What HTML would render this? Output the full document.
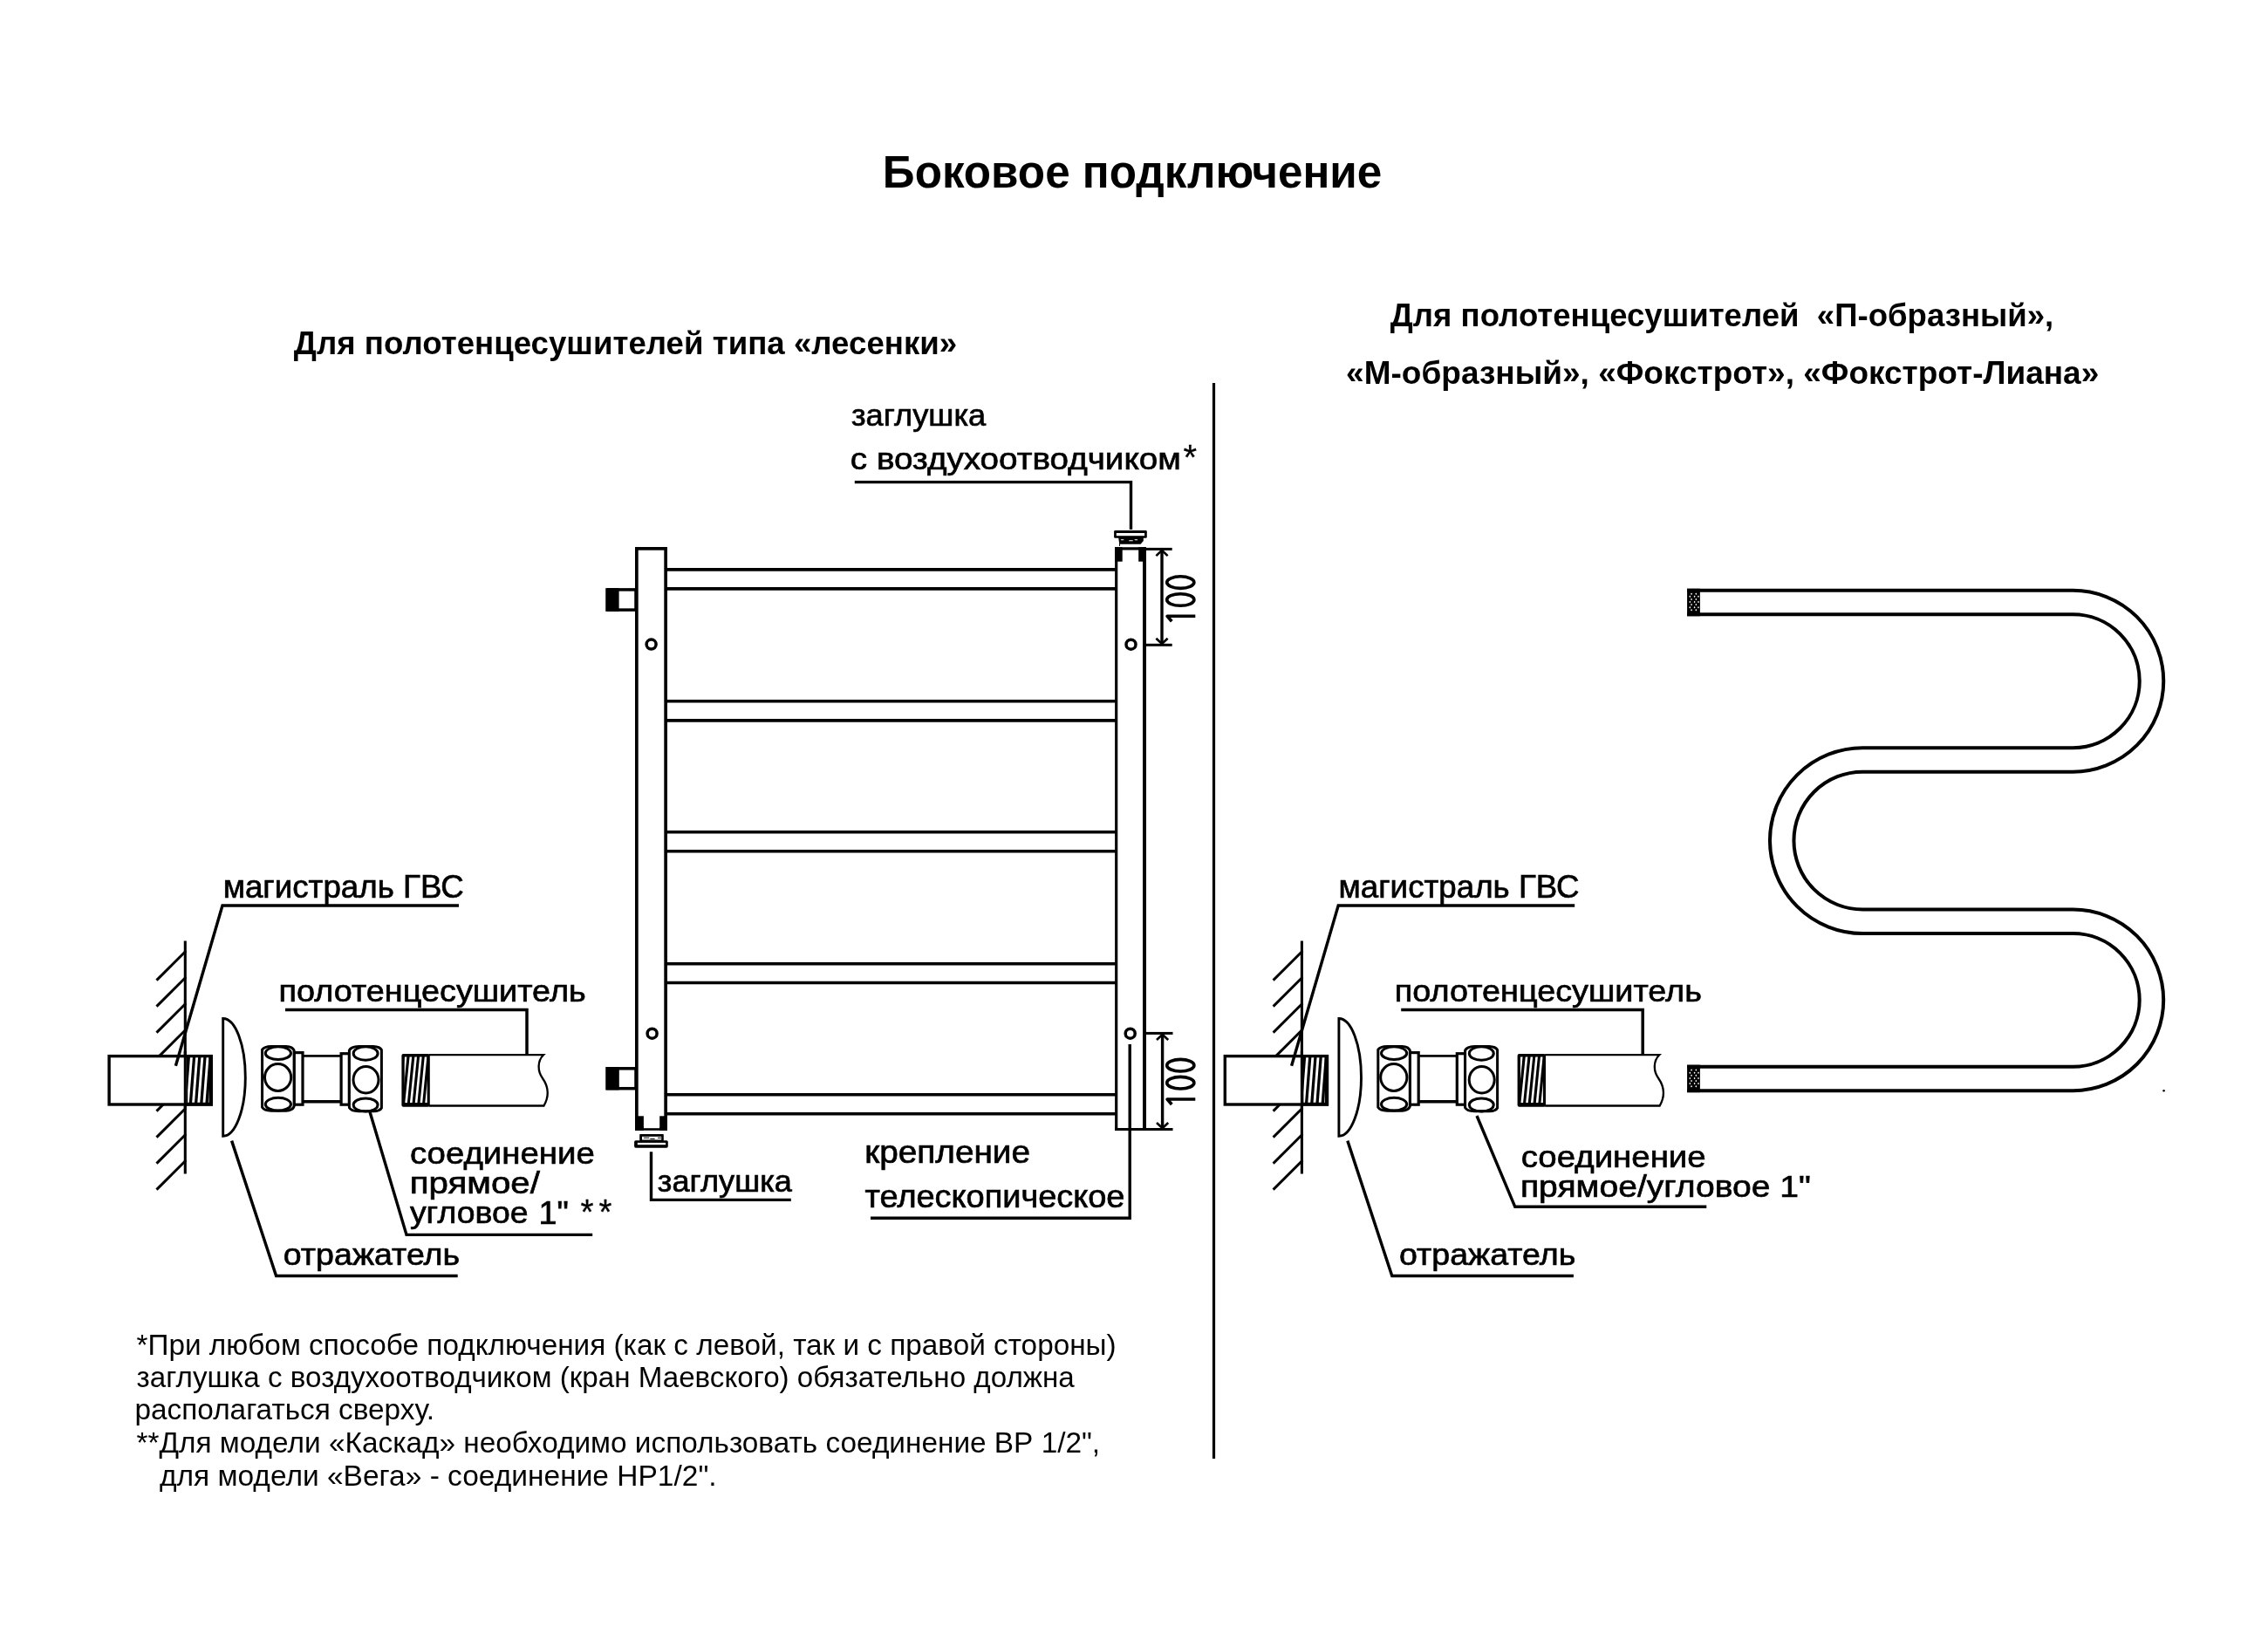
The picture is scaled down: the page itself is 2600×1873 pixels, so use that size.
<!DOCTYPE html>
<html><head><meta charset="utf-8"><title>Боковое подключение</title>
<style>html,body{margin:0;padding:0;background:#fff}svg{display:block}</style></head>
<body>
<svg width="2600" height="1873" viewBox="0 0 2600 1873" font-family="Liberation Sans, sans-serif" fill="#000" stroke="#000">
<defs>
<clipPath id="cpA"><rect x="215.2" y="1212.3" width="24.3" height="51.5"/></clipPath>
<clipPath id="cpB"><rect x="463.7" y="1211.6" width="26" height="52.4"/></clipPath>
</defs>
<rect width="2600" height="1873" fill="#fff" stroke="none"/>
<line x1="1391.5" y1="438.9" x2="1391.5" y2="1671.9" stroke-width="3.2"/>
<line x1="764" y1="652.9" x2="1279" y2="652.9" stroke-width="3.6"/>
<line x1="764" y1="674.9" x2="1279" y2="674.9" stroke-width="3.6"/>
<line x1="764" y1="803.8" x2="1279" y2="803.8" stroke-width="3.6"/>
<line x1="764" y1="825.9" x2="1279" y2="825.9" stroke-width="3.6"/>
<line x1="764" y1="953.8" x2="1279" y2="953.8" stroke-width="3.6"/>
<line x1="764" y1="975.8" x2="1279" y2="975.8" stroke-width="3.6"/>
<line x1="764" y1="1104.7" x2="1279" y2="1104.7" stroke-width="3.6"/>
<line x1="764" y1="1126.5" x2="1279" y2="1126.5" stroke-width="3.6"/>
<line x1="764" y1="1254.8" x2="1279" y2="1254.8" stroke-width="3.6"/>
<line x1="764" y1="1276.8" x2="1279" y2="1276.8" stroke-width="3.6"/>
<rect x="696" y="675.9" width="33" height="23.2" fill="#fff" stroke-width="3.5"/>
<rect x="695.8" y="674.1" width="13.8" height="26.8" stroke="none"/>
<rect x="696" y="1224.8" width="33" height="22.9" fill="#fff" stroke-width="3.5"/>
<rect x="695" y="1223" width="14.8" height="26.4" stroke="none"/>
<rect x="729.85" y="628.85" width="33.3" height="665.1" fill="#fff" stroke-width="3.7"/>
<rect x="1279" y="628" width="33" height="667" fill="#fff" stroke="none"/>
<line x1="1279.7" y1="627.2" x2="1279.7" y2="1296.1" stroke-width="3.2"/>
<line x1="1312" y1="627.2" x2="1312" y2="1296.1" stroke-width="4"/>
<line x1="1278.1" y1="628.9" x2="1314" y2="628.9" stroke-width="3.4"/>
<line x1="1278" y1="1294.6" x2="1344.5" y2="1294.6" stroke-width="3"/>
<rect x="737.9" y="1291.6" width="18.3" height="1.6" fill="#fff" stroke="none"/>
<rect x="1278.1" y="627.2" width="8.6" height="16.5" stroke="none"/><rect x="1305.2" y="627.2" width="8.6" height="16.5" stroke="none"/>
<rect x="728.1" y="1279.3" width="9.8" height="16.6" stroke="none"/><rect x="756.2" y="1279.3" width="8.6" height="16.6" stroke="none"/>
<circle cx="746.6" cy="738.6" r="5.5" fill="#fff" stroke-width="3.5"/>
<circle cx="747.6" cy="1184.7" r="5.5" fill="#fff" stroke-width="3.5"/>
<circle cx="1296.5" cy="738.7" r="5.5" fill="#fff" stroke-width="3.5"/>
<circle cx="1295.7" cy="1184.7" r="5.5" fill="#fff" stroke-width="3.5"/>
<path d="M1282.2,616 L1310.8,616 L1310.8,620 L1307.6,623.8 L1283.2,623.8 Z" stroke="none"/>
<path d="M1284.9,618.7h3.4M1300.7,618.7h3.4M1294.3,619.7h4.4" stroke="#fff" stroke-width="1.1" fill="none"/>
<line x1="1283.5" y1="623" x2="1283.5" y2="626" stroke-width="0.9"/>
<rect x="1277.1" y="608" width="37.7" height="8.7" rx="1.3" stroke="none"/>
<rect x="1279.8" y="611" width="32.3" height="3.2" fill="#fff" stroke="none"/>
<rect x="733.2" y="1300" width="27.6" height="8" rx="0.8" stroke="none"/>
<rect x="736" y="1302.8" width="22.2" height="3.7" fill="#fff" stroke="none"/>
<path d="M737.9,1304.2h6.4M745.3,1305.4h5.4M754,1304.3h4" stroke="#000" stroke-width="1" fill="none"/>
<rect x="727.1" y="1307.2" width="38.7" height="8.6" rx="1.8" stroke="none"/>
<rect x="730.8" y="1309.9" width="32.3" height="2.3" fill="#fff" stroke="none"/>
<polyline points="979.8,552.6 1296.5,552.6 1296.5,607" fill="none" stroke-width="3.4"/>
<polyline points="746.5,1320.2 746.5,1375.4 906.8,1375.4" fill="none" stroke-width="3.4"/>
<polyline points="1295.2,1197 1295.2,1396.2 998,1396.2" fill="none" stroke-width="3.4"/>
<line x1="1314" y1="629.4" x2="1343.7" y2="629.4" stroke-width="3"/>
<line x1="1314" y1="739.3" x2="1343.7" y2="739.3" stroke-width="3"/>
<line x1="1332" y1="629.4" x2="1332" y2="739.3" stroke-width="3.4"/>
<polyline points="1325.4,637.0999999999999 1332,630.8 1338.6,637.0999999999999" fill="none" stroke-width="2.6"/>
<polyline points="1325.4,731.7 1332,738 1338.6,731.7" fill="none" stroke-width="2.6"/>
<line x1="1314" y1="1184.4" x2="1344.5" y2="1184.4" stroke-width="3"/>
<line x1="1332.6" y1="1184" x2="1332.6" y2="1295" stroke-width="3.4"/>
<polyline points="1326.0,1192.0 1332.6,1185.7 1339.1999999999998,1192.0" fill="none" stroke-width="2.6"/>
<polyline points="1326.0,1287.0 1332.6,1293.3 1339.1999999999998,1287.0" fill="none" stroke-width="2.6"/>
<ellipse cx="1353.3" cy="667.6" rx="15.6" ry="6.8" fill="none" stroke-width="3.6"/>
<ellipse cx="1353.3" cy="687.5" rx="15.6" ry="6.8" fill="none" stroke-width="3.6"/>
<polyline points="1370.3,706.3 1338.1,706.3 1343.3,712.3" fill="none" stroke-width="3.6" stroke-linejoin="round"/>
<ellipse cx="1353.3" cy="1221.2" rx="15.6" ry="6.8" fill="none" stroke-width="3.6"/>
<ellipse cx="1353.3" cy="1241.2" rx="15.6" ry="6.8" fill="none" stroke-width="3.6"/>
<polyline points="1370.3,1260 1338.1,1260 1343.3,1266" fill="none" stroke-width="3.6" stroke-linejoin="round"/>
<g transform="translate(0,0)">
<line x1="213.2" y1="1090.0" x2="179.5" y2="1123.6" stroke-width="3"/>
<line x1="213.2" y1="1120.0" x2="179.5" y2="1153.6" stroke-width="3"/>
<line x1="213.2" y1="1150.0" x2="179.5" y2="1183.6" stroke-width="3"/>
<line x1="213.2" y1="1180.0" x2="179.5" y2="1213.6" stroke-width="3"/>
<line x1="213.2" y1="1210.0" x2="179.5" y2="1243.6" stroke-width="3"/>
<line x1="213.2" y1="1240.0" x2="179.5" y2="1273.6" stroke-width="3"/>
<line x1="213.2" y1="1270.0" x2="179.5" y2="1303.6" stroke-width="3"/>
<line x1="213.2" y1="1300.0" x2="179.5" y2="1333.6" stroke-width="3"/>
<line x1="213.2" y1="1330.0" x2="179.5" y2="1363.6" stroke-width="3"/>
<line x1="212.3" y1="1078.5" x2="212.3" y2="1345.6" stroke-width="3.1"/>
</g>
<g transform="translate(0,0)">
<rect x="125.1" y="1210.6" width="117" height="55.4" fill="#fff" stroke-width="3.4"/>
<rect x="213.8" y="1209" width="30.2" height="58.6" fill="#000" stroke="none"/>
<g clip-path="url(#cpA)" stroke="#fff" stroke-width="2.9">
<line x1="209.1" y1="1265" x2="213.3" y2="1211"/>
<line x1="215.3" y1="1265" x2="219.5" y2="1211"/>
<line x1="221.5" y1="1265" x2="225.7" y2="1211"/>
<line x1="227.7" y1="1265" x2="231.9" y2="1211"/>
<line x1="233.9" y1="1265" x2="238.1" y2="1211"/>
<line x1="240.1" y1="1265" x2="244.3" y2="1211"/>
<line x1="246.3" y1="1265" x2="250.5" y2="1211"/>
</g>
<line x1="212.30" y1="1205" x2="212.30" y2="1270" stroke-width="3.1"/>
<polyline points="526,1038 255,1038 201.4,1221.8" fill="none" stroke-width="3.4"/>
<path d="M255.7,1167.5 L255.7,1302.3 A25.6,67.4 0 0 0 255.7,1167.5 Z" fill="#fff" stroke-width="2.9"/>
<polyline points="265.6,1307.6 316.6,1462.5 524.7,1462.5" fill="none" stroke-width="3.4"/>
<rect x="346" y="1210.3" width="46" height="52.4" fill="#fff" stroke="none"/>
<line x1="346" y1="1210.3" x2="392" y2="1210.3" stroke-width="2.8"/>
<line x1="346" y1="1262.7" x2="392" y2="1262.7" stroke-width="3.6"/>
<rect x="337.1" y="1206.6" width="9.9" height="59.6" fill="#fff" stroke-width="3.2"/>
<rect x="391.1" y="1207.7" width="9.3" height="58.5" fill="#fff" stroke-width="3.2"/>
<path d="M300.6,1203.2 Q303,1199.6 311,1199.4 L328,1199.4 Q335.5,1199.8 337.1,1204 L337.1,1268.3 Q335.5,1272.8 328,1273.2 L311,1273.2 Q303,1273 300.6,1269.2 Z" fill="#fff" stroke-width="3"/>
<ellipse cx="318.9" cy="1207.2" rx="14.6" ry="7.4" fill="none" stroke-width="3"/>
<ellipse cx="318.6" cy="1235" rx="15.1" ry="15.4" fill="none" stroke-width="3"/>
<ellipse cx="318.9" cy="1265.7" rx="14.6" ry="7.4" fill="none" stroke-width="3"/>
<path d="M400.4,1204 Q402.5,1199.8 411,1199.5 L428,1199.5 Q435.5,1199.8 437.4,1203.5 L437.4,1270 Q435.5,1273.6 428,1273.8 L411,1273.8 Q402.5,1273.6 400.4,1269.6 Z" fill="#fff" stroke-width="3"/>
<ellipse cx="419.1" cy="1207.5" rx="14" ry="7.8" fill="none" stroke-width="3"/>
<ellipse cx="419.5" cy="1237.8" rx="14.5" ry="15.2" fill="none" stroke-width="3"/>
<ellipse cx="419.1" cy="1266.4" rx="14" ry="7.5" fill="none" stroke-width="3"/>
<path d="M492,1209.2 L623,1209.2 C616,1216 616,1228 622,1236 C629,1246 630,1256 623.5,1267.5 L492,1267.5" fill="#fff" stroke-width="2.3"/>
<rect x="460.4" y="1208.1" width="32.4" height="60.6" rx="2" fill="#000" stroke="none"/>
<g clip-path="url(#cpB)" stroke="#fff" stroke-width="2.6">
<line x1="459.8" y1="1265" x2="465.2" y2="1210"/>
<line x1="465.5" y1="1265" x2="471.0" y2="1210"/>
<line x1="471.2" y1="1265" x2="476.8" y2="1210"/>
<line x1="477.0" y1="1265" x2="482.5" y2="1210"/>
<line x1="482.8" y1="1265" x2="488.2" y2="1210"/>
<line x1="488.5" y1="1265" x2="494.0" y2="1210"/>
<line x1="494.2" y1="1265" x2="499.8" y2="1210"/>
</g>
<polyline points="327,1157.4 604,1157.4 604,1208.5" fill="none" stroke-width="3.5"/>
</g>
<g transform="translate(1280.1,0)">
<line x1="213.2" y1="1090.0" x2="179.5" y2="1123.6" stroke-width="3"/>
<line x1="213.2" y1="1120.0" x2="179.5" y2="1153.6" stroke-width="3"/>
<line x1="213.2" y1="1150.0" x2="179.5" y2="1183.6" stroke-width="3"/>
<line x1="213.2" y1="1180.0" x2="179.5" y2="1213.6" stroke-width="3"/>
<line x1="213.2" y1="1210.0" x2="179.5" y2="1243.6" stroke-width="3"/>
<line x1="213.2" y1="1240.0" x2="179.5" y2="1273.6" stroke-width="3"/>
<line x1="213.2" y1="1270.0" x2="179.5" y2="1303.6" stroke-width="3"/>
<line x1="213.2" y1="1300.0" x2="179.5" y2="1333.6" stroke-width="3"/>
<line x1="213.2" y1="1330.0" x2="179.5" y2="1363.6" stroke-width="3"/>
<line x1="212.3" y1="1078.5" x2="212.3" y2="1345.6" stroke-width="3.1"/>
</g>
<g transform="translate(1279.2,0)">
<rect x="125.1" y="1210.6" width="117" height="55.4" fill="#fff" stroke-width="3.4"/>
<rect x="213.8" y="1209" width="30.2" height="58.6" fill="#000" stroke="none"/>
<g clip-path="url(#cpA)" stroke="#fff" stroke-width="2.9">
<line x1="209.1" y1="1265" x2="213.3" y2="1211"/>
<line x1="215.3" y1="1265" x2="219.5" y2="1211"/>
<line x1="221.5" y1="1265" x2="225.7" y2="1211"/>
<line x1="227.7" y1="1265" x2="231.9" y2="1211"/>
<line x1="233.9" y1="1265" x2="238.1" y2="1211"/>
<line x1="240.1" y1="1265" x2="244.3" y2="1211"/>
<line x1="246.3" y1="1265" x2="250.5" y2="1211"/>
</g>
<line x1="213.20" y1="1205" x2="213.20" y2="1270" stroke-width="3.1"/>
<polyline points="526,1038 255,1038 201.4,1221.8" fill="none" stroke-width="3.4"/>
<path d="M255.7,1167.5 L255.7,1302.3 A25.6,67.4 0 0 0 255.7,1167.5 Z" fill="#fff" stroke-width="2.9"/>
<polyline points="265.6,1307.6 316.6,1462.5 524.7,1462.5" fill="none" stroke-width="3.4"/>
<rect x="346" y="1210.3" width="46" height="52.4" fill="#fff" stroke="none"/>
<line x1="346" y1="1210.3" x2="392" y2="1210.3" stroke-width="2.8"/>
<line x1="346" y1="1262.7" x2="392" y2="1262.7" stroke-width="3.6"/>
<rect x="337.1" y="1206.6" width="9.9" height="59.6" fill="#fff" stroke-width="3.2"/>
<rect x="391.1" y="1207.7" width="9.3" height="58.5" fill="#fff" stroke-width="3.2"/>
<path d="M300.6,1203.2 Q303,1199.6 311,1199.4 L328,1199.4 Q335.5,1199.8 337.1,1204 L337.1,1268.3 Q335.5,1272.8 328,1273.2 L311,1273.2 Q303,1273 300.6,1269.2 Z" fill="#fff" stroke-width="3"/>
<ellipse cx="318.9" cy="1207.2" rx="14.6" ry="7.4" fill="none" stroke-width="3"/>
<ellipse cx="318.6" cy="1235" rx="15.1" ry="15.4" fill="none" stroke-width="3"/>
<ellipse cx="318.9" cy="1265.7" rx="14.6" ry="7.4" fill="none" stroke-width="3"/>
<path d="M400.4,1204 Q402.5,1199.8 411,1199.5 L428,1199.5 Q435.5,1199.8 437.4,1203.5 L437.4,1270 Q435.5,1273.6 428,1273.8 L411,1273.8 Q402.5,1273.6 400.4,1269.6 Z" fill="#fff" stroke-width="3"/>
<ellipse cx="419.1" cy="1207.5" rx="14" ry="7.8" fill="none" stroke-width="3"/>
<ellipse cx="419.5" cy="1237.8" rx="14.5" ry="15.2" fill="none" stroke-width="3"/>
<ellipse cx="419.1" cy="1266.4" rx="14" ry="7.5" fill="none" stroke-width="3"/>
<path d="M492,1209.2 L623,1209.2 C616,1216 616,1228 622,1236 C629,1246 630,1256 623.5,1267.5 L492,1267.5" fill="#fff" stroke-width="2.3"/>
<rect x="460.4" y="1208.1" width="32.4" height="60.6" rx="2" fill="#000" stroke="none"/>
<g clip-path="url(#cpB)" stroke="#fff" stroke-width="2.6">
<line x1="459.8" y1="1265" x2="465.2" y2="1210"/>
<line x1="465.5" y1="1265" x2="471.0" y2="1210"/>
<line x1="471.2" y1="1265" x2="476.8" y2="1210"/>
<line x1="477.0" y1="1265" x2="482.5" y2="1210"/>
<line x1="482.8" y1="1265" x2="488.2" y2="1210"/>
<line x1="488.5" y1="1265" x2="494.0" y2="1210"/>
<line x1="494.2" y1="1265" x2="499.8" y2="1210"/>
</g>
<polyline points="327,1157.4 604,1157.4 604,1208.5" fill="none" stroke-width="3.5"/>
</g>
<polyline points="424,1274.5 466,1415.4 679.2,1415.4" fill="none" stroke-width="3.4"/>
<polyline points="1693,1279 1736.8,1383.3 1956.3,1383.3" fill="none" stroke-width="3.4"/>
<path d="M1934.1,690.5 H2376.3 A90.2,90.2 0 0 1 2376.3,870.9 H2135.4 A92.7,92.7 0 0 0 2135.4,1056.3 H2376.4 A90.05,90.05 0 0 1 2376.4,1236.4 H1934.1" fill="none" stroke="#000" stroke-width="31.5"/>
<path d="M1934.1,690.5 H2376.3 A90.2,90.2 0 0 1 2376.3,870.9 H2135.4 A92.7,92.7 0 0 0 2135.4,1056.3 H2376.4 A90.05,90.05 0 0 1 2376.4,1236.4 H1934.1" fill="none" stroke="#fff" stroke-width="23.5"/>
<rect x="1934.1" y="674.75" width="14.8" height="31.5" fill="#000" stroke="none"/><path d="M1939.05,679.45l1,1.25l-1,1.25l-1,-1.25zM1944.30,679.45l1,1.25l-1,1.25l-1,-1.25zM1937.30,682.55l1,1.25l-1,1.25l-1,-1.25zM1942.60,682.55l1,1.25l-1,1.25l-1,-1.25zM1947.00,682.55l1,1.25l-1,1.25l-1,-1.25zM1939.05,685.65l1,1.25l-1,1.25l-1,-1.25zM1944.30,685.65l1,1.25l-1,1.25l-1,-1.25zM1937.30,688.75l1,1.25l-1,1.25l-1,-1.25zM1942.60,688.75l1,1.25l-1,1.25l-1,-1.25zM1947.00,688.75l1,1.25l-1,1.25l-1,-1.25zM1939.05,691.85l1,1.25l-1,1.25l-1,-1.25zM1944.30,691.85l1,1.25l-1,1.25l-1,-1.25zM1937.30,694.95l1,1.25l-1,1.25l-1,-1.25zM1942.60,694.95l1,1.25l-1,1.25l-1,-1.25zM1947.00,694.95l1,1.25l-1,1.25l-1,-1.25zM1939.05,698.05l1,1.25l-1,1.25l-1,-1.25zM1944.30,698.05l1,1.25l-1,1.25l-1,-1.25z" fill="#fff" stroke="none"/>
<rect x="1934.1" y="1220.65" width="14.8" height="31.5" fill="#000" stroke="none"/><path d="M1939.05,1225.35l1,1.25l-1,1.25l-1,-1.25zM1944.30,1225.35l1,1.25l-1,1.25l-1,-1.25zM1937.30,1228.45l1,1.25l-1,1.25l-1,-1.25zM1942.60,1228.45l1,1.25l-1,1.25l-1,-1.25zM1947.00,1228.45l1,1.25l-1,1.25l-1,-1.25zM1939.05,1231.55l1,1.25l-1,1.25l-1,-1.25zM1944.30,1231.55l1,1.25l-1,1.25l-1,-1.25zM1937.30,1234.65l1,1.25l-1,1.25l-1,-1.25zM1942.60,1234.65l1,1.25l-1,1.25l-1,-1.25zM1947.00,1234.65l1,1.25l-1,1.25l-1,-1.25zM1939.05,1237.75l1,1.25l-1,1.25l-1,-1.25zM1944.30,1237.75l1,1.25l-1,1.25l-1,-1.25zM1937.30,1240.85l1,1.25l-1,1.25l-1,-1.25zM1942.60,1240.85l1,1.25l-1,1.25l-1,-1.25zM1947.00,1240.85l1,1.25l-1,1.25l-1,-1.25zM1939.05,1243.95l1,1.25l-1,1.25l-1,-1.25zM1944.30,1243.95l1,1.25l-1,1.25l-1,-1.25z" fill="#fff" stroke="none"/>
<circle cx="2480.6" cy="1250.2" r="1.3" stroke="none"/>
<g stroke="none" opacity="0.999">
<text transform="translate(1011.85,214.8) scale(0.9845,1)" font-size="52" font-weight="bold" xml:space="preserve">Боковое подключение</text>
<text transform="translate(336.80,405.8) scale(0.9908,1)" font-size="37" font-weight="bold" xml:space="preserve">Для полотенцесушителей типа «лесенки»</text>
<text transform="translate(1593.80,374.1) scale(0.9890,1)" font-size="37" font-weight="bold" xml:space="preserve">Для полотенцесушителей  «П-образный»,</text>
<text transform="translate(1543.10,439.7) scale(1.0003,1)" font-size="37" font-weight="bold" xml:space="preserve">«М-образный», «Фокстрот», «Фокстрот-Лиана»</text>
<text transform="translate(975.90,487.6) scale(1.0072,1)" font-size="36" stroke="#000" stroke-width="0.7" xml:space="preserve">заглушка</text>
<text transform="translate(974.83,538.2) scale(1.0736,1)" font-size="36" stroke="#000" stroke-width="0.7" xml:space="preserve">с воздухоотводчиком</text>
<text transform="translate(1356.50,538.3) scale(1.0000,1)" font-size="40" stroke="#000" stroke-width="0.3" xml:space="preserve">*</text>
<text transform="translate(255.66,1029) scale(1.0201,1)" font-size="36" stroke="#000" stroke-width="0.7" xml:space="preserve">магистраль ГВС</text>
<text transform="translate(319.60,1148) scale(1.0505,1)" font-size="36" stroke="#000" stroke-width="0.7" xml:space="preserve">полотенцесушитель</text>
<text transform="translate(469.93,1333.5) scale(1.0668,1)" font-size="36" stroke="#000" stroke-width="0.7" xml:space="preserve">соединение</text>
<text transform="translate(469.76,1367.6) scale(1.1180,1)" font-size="36" stroke="#000" stroke-width="0.7" xml:space="preserve">прямое/</text>
<text transform="translate(469.90,1402.4) scale(1.0393,1)" font-size="36" stroke="#000" stroke-width="0.7" xml:space="preserve">угловое</text>
<text transform="translate(617.51,1403) scale(1.0459,1)" font-size="36" stroke="#000" stroke-width="0.7" xml:space="preserve">1&quot;</text>
<text transform="translate(665.50,1402.8) scale(0.9667,1)" font-size="40" stroke="#000" stroke-width="0.3" xml:space="preserve">*</text>
<text transform="translate(686.60,1402.8) scale(0.9600,1)" font-size="40" stroke="#000" stroke-width="0.3" xml:space="preserve">*</text>
<text transform="translate(324.76,1449.5) scale(1.0448,1)" font-size="36" stroke="#000" stroke-width="0.7" xml:space="preserve">отражатель</text>
<text transform="translate(753.80,1365.7) scale(1.0059,1)" font-size="36" stroke="#000" stroke-width="0.7" xml:space="preserve">заглушка</text>
<text transform="translate(991.35,1333.4) scale(1.0761,1)" font-size="36" stroke="#000" stroke-width="0.7" xml:space="preserve">крепление</text>
<text transform="translate(991.60,1384.3) scale(1.0541,1)" font-size="36" stroke="#000" stroke-width="0.7" xml:space="preserve">телескопическое</text>
<text transform="translate(1534.56,1029) scale(1.0201,1)" font-size="36" stroke="#000" stroke-width="0.7" xml:space="preserve">магистраль ГВС</text>
<text transform="translate(1598.80,1148) scale(1.0505,1)" font-size="36" stroke="#000" stroke-width="0.7" xml:space="preserve">полотенцесушитель</text>
<text transform="translate(1743.73,1337.8) scale(1.0668,1)" font-size="36" stroke="#000" stroke-width="0.7" xml:space="preserve">соединение</text>
<text transform="translate(1742.93,1372.1) scale(1.0860,1)" font-size="36" stroke="#000" stroke-width="0.7" xml:space="preserve">прямое/угловое 1&quot;</text>
<text transform="translate(1603.96,1449.5) scale(1.0448,1)" font-size="36" stroke="#000" stroke-width="0.7" xml:space="preserve">отражатель</text>
<text transform="translate(156.50,1552.9) scale(1.0101,1)" font-size="33" xml:space="preserve">*При любом способе подключения (как с левой, так и с правой стороны)</text>
<text transform="translate(156.50,1590) scale(1.0060,1)" font-size="33" xml:space="preserve">заглушка с воздухоотводчиком (кран Маевского) обязательно должна</text>
<text transform="translate(154.48,1627) scale(1.0110,1)" font-size="33" xml:space="preserve">располагаться сверху.</text>
<text transform="translate(156.50,1665) scale(1.0116,1)" font-size="33" xml:space="preserve">**Для модели «Каскад» необходимо использовать соединение ВР 1/2&quot;,</text>
<text transform="translate(182.90,1702.6) scale(1.0151,1)" font-size="33" xml:space="preserve">для модели «Вега» - соединение НР1/2&quot;.</text>
</g>
</svg>
</body></html>
